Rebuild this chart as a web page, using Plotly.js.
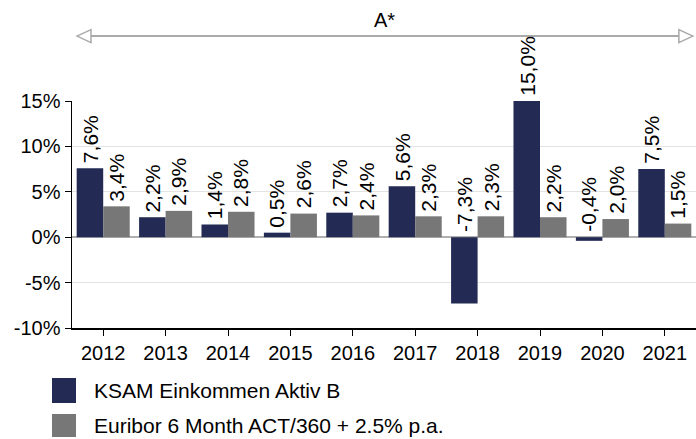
<!DOCTYPE html>
<html>
<head>
<meta charset="utf-8">
<script src="https://cdn.plot.ly/plotly-3.0.1.min.js"></script>
<style>html,body{margin:0;padding:0;background:#fff}#chart{width:696px;height:439px}</style>
</head>
<body>
<div id="chart"></div>
<script>
const years = [2012, 2013, 2014, 2015, 2016, 2017, 2018, 2019, 2020, 2021];
const fund = [7.6, 2.2, 1.4, 0.5, 2.7, 5.6, -7.3, 15.0, -0.4, 7.5];
const bench = [3.4, 2.9, 2.8, 2.6, 2.4, 2.3, 2.3, 2.2, 2.0, 1.5];
const seriesNames = ["KSAM Einkommen Aktiv B", "Euribor 6 Month ACT/360 + 2.5% p.a."];
const seriesColors = ["#232a54", "#777777"];
const yTickVals = [-10, -5, 0, 5, 10, 15];
const yTickText = ["-10%", "-5%", "0%", "5%", "10%", "15%"];
const periodLabel = "A*";

const FONT = "Liberation Sans, Arial, sans-serif";
const fmt = v => v.toFixed(1).replace('.', ',') + '%';
const bargap = 0.15;
const off = (1 - bargap) / 4;

const traces = [
  {type: 'bar', x: years, y: fund, name: seriesNames[0], marker: {color: seriesColors[0]}, showlegend: false, hoverinfo: 'x+y'},
  {type: 'bar', x: years, y: bench, name: seriesNames[1], marker: {color: seriesColors[1]}, showlegend: false, hoverinfo: 'x+y'}
];

const annotations = [];
[fund, bench].forEach((arr, si) => {
  arr.forEach((v, i) => {
    annotations.push({
      x: years[i] + (si === 0 ? -off : off), y: Math.max(v, 0), xref: 'x', yref: 'y',
      text: fmt(v), showarrow: false, textangle: -90,
      xanchor: 'center', yanchor: 'bottom', yshift: 3,
      font: {family: FONT, size: 21, color: '#000'}
    });
  });
});

// period label
annotations.push({x: 0.5, y: 1.357, xref: 'paper', yref: 'paper', text: periodLabel, showarrow: false,
  xanchor: 'center', yanchor: 'middle', font: {family: FONT, size: 20, color: '#000'}});

// legend texts
const legY = [-0.2775, -0.4317];
seriesNames.forEach((n, i) => {
  annotations.push({x: 0.032, y: legY[i], xref: 'paper', yref: 'paper', text: n, showarrow: false,
    xanchor: 'left', yanchor: 'middle', font: {family: FONT, size: 21, color: '#000'}});
});

const arrowY = 1.286;
const shapes = [
  {type: 'line', xref: 'paper', yref: 'paper', x0: 0.02, x1: 0.985, y0: arrowY, y1: arrowY, line: {color: '#aaaaaa', width: 2}},
  {type: 'path', xref: 'paper', yref: 'paper', xsizemode: 'pixel', ysizemode: 'pixel', xanchor: 0.008, yanchor: arrowY,
    path: 'M0,0 L14,6.5 L14,-6.5 Z', fillcolor: '#ffffff', line: {color: '#aaaaaa', width: 1.5}},
  {type: 'path', xref: 'paper', yref: 'paper', xsizemode: 'pixel', ysizemode: 'pixel', xanchor: 0.995, yanchor: arrowY,
    path: 'M0,0 L-14,6.5 L-14,-6.5 Z', fillcolor: '#ffffff', line: {color: '#aaaaaa', width: 1.5}},
  // legend swatches
  {type: 'rect', xref: 'paper', yref: 'paper', x0: -0.0321, x1: 0.0064, y0: -0.2203, y1: -0.3304, fillcolor: seriesColors[0], line: {width: 0}},
  {type: 'rect', xref: 'paper', yref: 'paper', x0: -0.0321, x1: 0.0064, y0: -0.3789, y1: -0.4802, fillcolor: seriesColors[1], line: {width: 0}}
];

const layout = {
  width: 696, height: 439,
  margin: {l: 72, r: 0, t: 101, b: 111},
  paper_bgcolor: '#fff', plot_bgcolor: '#fff',
  barmode: 'group', bargap: bargap, bargroupgap: 0,
  font: {family: FONT, size: 20, color: '#000'},
  showlegend: false,
  xaxis: {
    range: [2011.5, 2021.5], tickmode: 'array', tickvals: years, ticktext: years.map(String),
    showgrid: false, zeroline: false, showline: true, linecolor: '#000', linewidth: 1.5,
    ticks: 'outside', ticklen: 6, tickcolor: '#000', tickfont: {family: FONT, size: 20, color: '#000'}
  },
  yaxis: {
    range: [-10, 15], tickmode: 'array', tickvals: yTickVals, ticktext: yTickText,
    showgrid: true, gridcolor: '#e3e3e3', gridwidth: 1,
    zeroline: true, zerolinecolor: '#b0b0b0', zerolinewidth: 1.5,
    showline: true, linecolor: '#000', linewidth: 1.5,
    ticks: 'outside', ticklen: 6, tickcolor: '#000', tickfont: {family: FONT, size: 20, color: '#000'}
  },
  annotations: annotations,
  shapes: shapes
};

Plotly.newPlot('chart', traces, layout, {displayModeBar: false, staticPlot: true});
</script>
</body>
</html>
